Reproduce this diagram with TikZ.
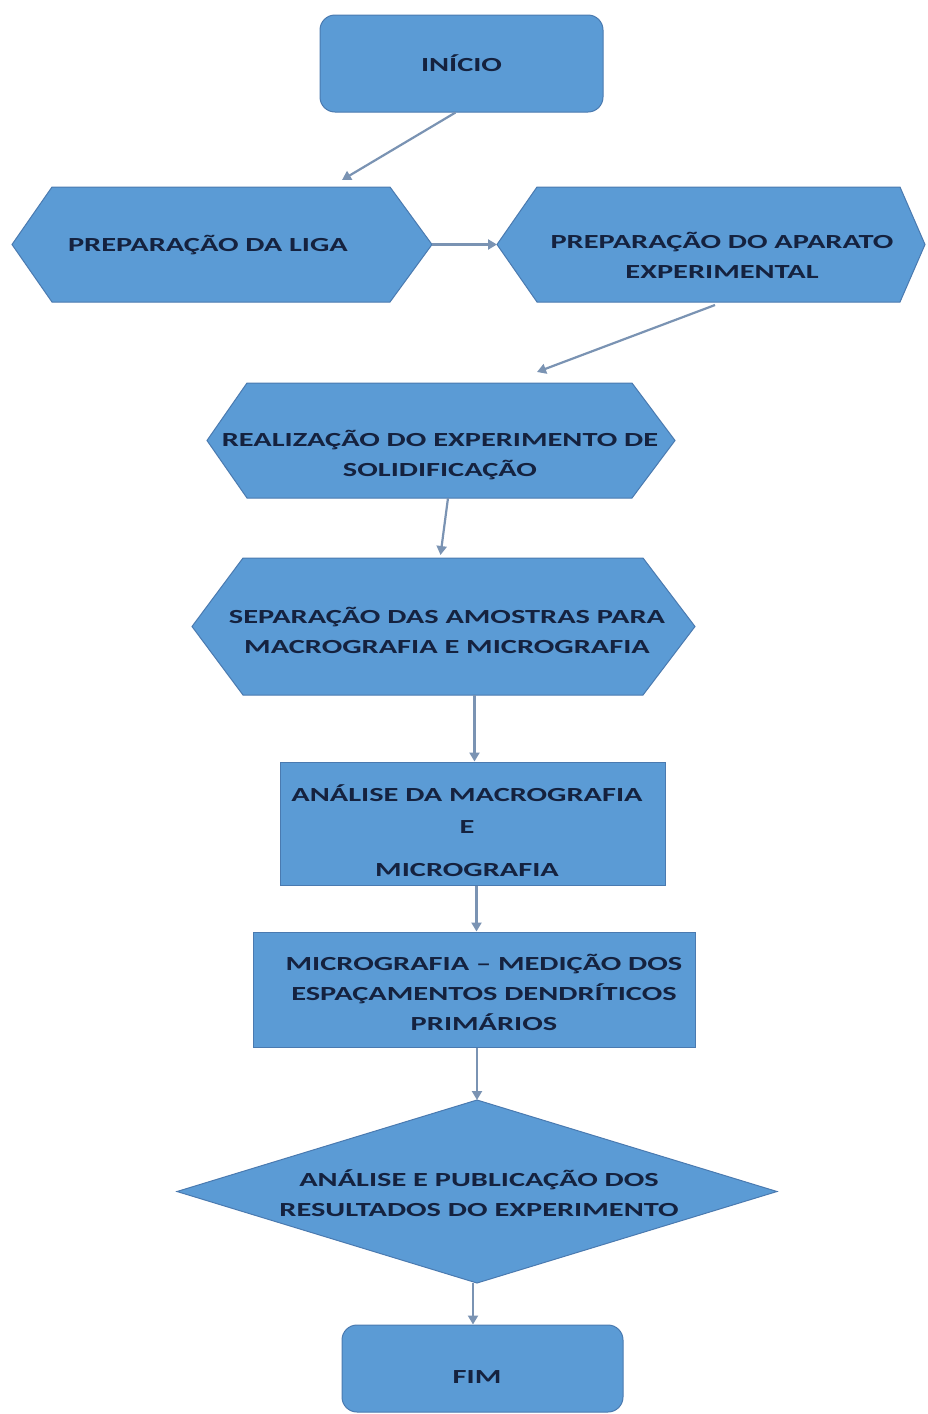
\documentclass[tikz,border=0pt]{standalone}
\usepackage{fontspec}
\newfontfamily\lblfont[FakeStretch=1.52]{Carlito}
\usetikzlibrary{arrows.meta,calc}
\definecolor{shapefill}{HTML}{5B9BD5}
\definecolor{shapeline}{HTML}{4A7AB0}
\definecolor{txtc}{HTML}{15223F}
\definecolor{arrowc}{HTML}{7A93B3}
\tikzset{
  frame/.style={draw=none, fill=none, inner sep=0pt, outer sep=0pt},
  shp/.style={fill=shapefill, draw=shapeline, line width=1pt, line join=miter},
  lbl/.style={font=\lblfont\bfseries\fontsize{20}{30}\selectfont, text=txtc, align=center, inner sep=0pt},
  rbox/.style={shp, rounded corners=15pt, inner sep=0pt, lbl},
  sbox/.style={shp, inner sep=0pt, lbl},
  arr/.style={draw=arrowc, line width=2.2pt, -{Triangle[length=9pt,width=10pt]}}
}
\newcommand\hexfill[3]{\path[shp] (#1.west) -- ([xshift=#2pt]#1.north west) -- ([xshift=-#3pt]#1.north east) -- (#1.east) -- ([xshift=-#3pt]#1.south east) -- ([xshift=#2pt]#1.south west) -- cycle;}
\newcommand\diafill[1]{\path[shp] (#1.west) -- (#1.north) -- (#1.east) -- (#1.south) -- cycle;}
\begin{document}
\begin{tikzpicture}[x=1pt,y=-1pt]
\fill[white] (0,0) rectangle (927,1414);
\useasboundingbox (0,0) rectangle (927,1414);

% rounded boxes
\node[rbox, minimum width=283pt, minimum height=97pt] (inicio) at (461.5,63.5) {INÍCIO};

% hexagon frames
\node[frame, minimum width=420pt, minimum height=115pt] (liga) at (222,244.5) {};
\node[frame, minimum width=428pt, minimum height=115pt] (aparato) at (711,244.5) {};
\node[frame, minimum width=468pt, minimum height=115pt] (real) at (441,440.5) {};
\node[frame, minimum width=503pt, minimum height=137pt] (sep) at (443.5,626.5) {};
\node[frame, minimum width=600pt, minimum height=183pt] (dia) at (477,1191.5) {};

\hexfill{liga}{40}{42}
\hexfill{aparato}{40}{25}
\hexfill{real}{40}{43}
\hexfill{sep}{51}{52}
\diafill{dia}

% rectangles
\node[sbox, minimum width=385pt, minimum height=123pt] (ana) at (472.5,823.5) {};
\node[sbox, minimum width=442pt, minimum height=115pt] (mic) at (474,989.5) {};
\node[rbox, minimum width=281pt, minimum height=87pt] (fim) at (482.5,1368.5) {};

% texts
\node[lbl] (ligaT) at (208,245) {PREPARAÇÃO DA LIGA};
\node[lbl] (aparatoT) at (722,255) {PREPARAÇÃO DO APARATO\\EXPERIMENTAL};
\node[lbl] (realT) at (440,455) {REALIZAÇÃO DO EXPERIMENTO DE\\SOLIDIFICAÇÃO};
\node[lbl] (sepT) at (447,630) {SEPARAÇÃO DAS AMOSTRAS PARA\\MACROGRAFIA E MICROGRAFIA};
\node[lbl] (anaT) at (467,830.5) {ANÁLISE DA MACROGRAFIA\\[2pt]E\\[13pt]MICROGRAFIA};
\node[lbl] (micT) at (484,992) {MICROGRAFIA – MEDIÇÃO DOS\\ESPAÇAMENTOS DENDRÍTICOS\\PRIMÁRIOS};
\node[lbl] (diaT) at (479,1193) {ANÁLISE E PUBLICAÇÃO DOS\\RESULTADOS DO EXPERIMENTO};
\node[lbl] (fimT) at (477,1377) {FIM};

% connectors
\draw[arr] ([xshift=-6pt]inicio.south) -- ($(liga.north)+(120,-7)$);
\draw[arr] (liga.east) -- (aparato.west);
\draw[arr] ([xshift=4pt,yshift=-3pt]aparato.south) -- ($(real.north)+(96,-11)$);
\draw[arr] ([xshift=7pt]real.south) -- ($(sep.north)+(-3,-3)$);
\draw[arr] ([xshift=2pt]ana.north |- sep.south) -- ([xshift=2pt]ana.north);
\draw[arr] ([xshift=4pt]ana.south) -- ([xshift=4pt]ana.south |- mic.north);
\draw[arr] ([xshift=3pt]mic.south) -- (dia.north);
\draw[arr] ([xshift=-4pt]dia.south) -- ([xshift=-4pt]dia.south |- fim.north);
\end{tikzpicture}
\end{document}
